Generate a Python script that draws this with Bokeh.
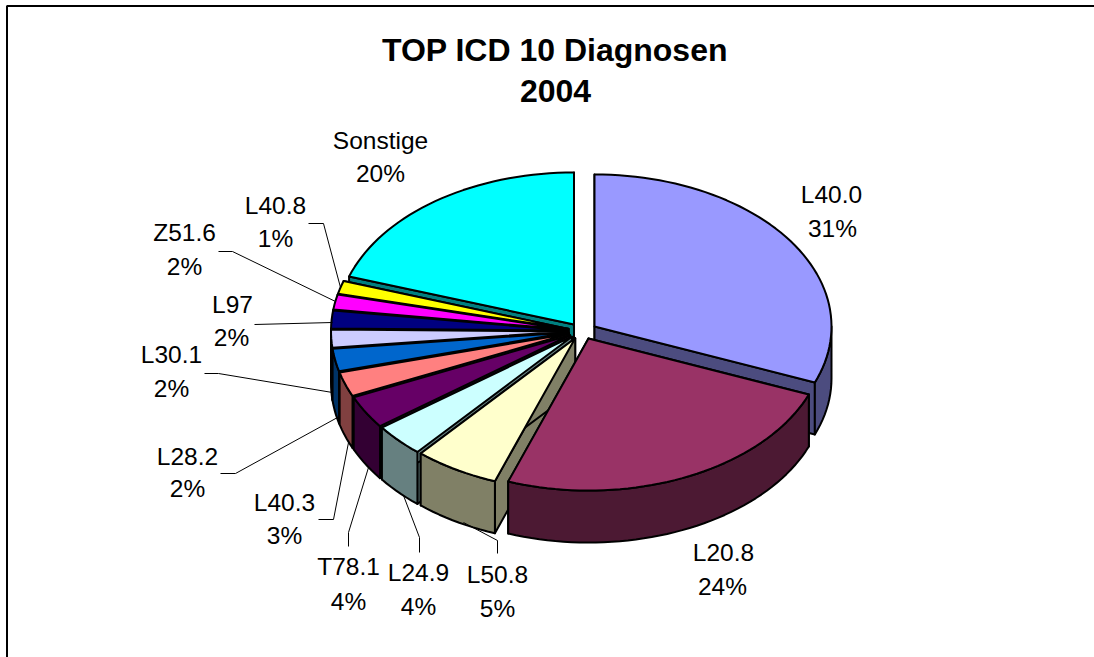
import math
from bokeh.embed import file_html
from bokeh.resources import INLINE
from bokeh.plotting import figure
from bokeh.models import ColumnDataSource
from bokeh.core.properties import value

# ---- data ----
categories = ["L40.0", "L20.8", "L50.8", "L24.9", "T78.1", "L40.3", "L28.2",
              "L30.1", "L97", "Z51.6", "L40.8", "Sonstige"]
shares = [31.0, 24.5, 5.8, 3.5, 3.5, 2.6, 2.4, 1.9, 1.9, 1.6, 1.4, 19.9]
percent_labels = ["31%", "24%", "5%", "4%", "4%", "3%", "2%", "2%", "2%", "2%", "1%", "20%"]
top_colors = ["#9999FF", "#993366", "#FFFFCC", "#CCFFFF", "#660066", "#FF8080",
              "#0066CC", "#CCCCFF", "#000080", "#FF00FF", "#FFFF00", "#00FFFF"]
wall_colors = ["#4C4C7F", "#4C1933", "#808066", "#668080", "#330033", "#804040",
               "#003366", "#666680", "#000040", "#800080", "#808000", "#008080"]
title_lines = ["TOP ICD 10 Diagnosen", "2004"]

# ---- layout (page pixels) ----
W, H = 1094, 657
CX, CY = 582.0, 330.6      # pie centre
RX, RY = 237.0, 152.0      # top ellipse radii
EX, EY = 14.5, 8.2         # explosion offset
DEPTH = 52.0
LW = 2.0

# label centres: (name x, name y, pct x, pct y)
label_pos = [(831, 194, 832, 228), (723, 552, 722, 586), (497, 574, 497, 608),
             (418, 572, 418, 606), (348, 566, 348, 601), (284, 502, 284, 535),
             (187, 456, 187, 488), (171, 354, 171, 388), (232, 304, 231, 337),
             (184, 232, 184, 266), (275, 205, 275, 238), (380, 140, 380, 173)]
# leader polylines, one for each label that has one
leaders = {
    "L50.8": [(497, 553), (497, 540), (463, 522)],
    "L24.9": [(419, 552), (419, 537), (403, 495)],
    "T78.1": [(348, 546), (348, 532), (368, 467)],
    "L40.3": [(318, 519), (333, 519), (348, 442)],
    "L28.2": [(220, 473), (235, 473), (337, 417)],
    "L30.1": [(204, 373), (218, 373), (332, 392)],
    "L97":   [(254, 324), (332, 322)],
    "Z51.6": [(218, 251), (232, 251), (335, 301)],
    "L40.8": [(308, 223), (323, 223), (340, 287)],
}

p = figure(width=W, height=H, x_range=(0, W), y_range=(H, 0),
           output_backend="svg", toolbar_location=None,
           min_border=0, outline_line_color=None, margin=(0, 0, 0, 0))
p.axis.visible = False
p.grid.visible = False
p.background_fill_color = "white"
p.border_fill_color = "white"

# chart frame (top and left edges, running off the picture)
p.line([6.5, 6.5, W], [H, 5.5, 5.5], line_color="black", line_width=2)

# build the slices
total = sum(shares)
slices = []
acc = 0.0
for v, top, wall in zip(shares, top_colors, wall_colors):
    a0 = acc / total * 2 * math.pi
    acc += v
    a1 = acc / total * 2 * math.pi
    mid = (a0 + a1) / 2
    slices.append(dict(a0=a0, a1=a1, mid=mid, top=top, wall=wall,
                       ax=CX + EX * math.sin(mid), ay=CY - EY * math.cos(mid)))


def arc(s, a0, a1):
    n = max(2, int((a1 - a0) / math.radians(2)) + 1)
    pts = [a0 + (a1 - a0) * i / n for i in range(n + 1)]
    return ([s["ax"] + RX * math.sin(t) for t in pts],
            [s["ay"] - RY * math.cos(t) for t in pts])


xs, ys, fills = [], [], []


def add(x, y, c):
    xs.append(x)
    ys.append(y)
    fills.append(c)


# back to front
for s in sorted(slices, key=lambda q: -math.cos(q["mid"])):
    for t in (s["a0"], s["a1"]):
        ex = s["ax"] + RX * math.sin(t)
        ey = s["ay"] - RY * math.cos(t)
        add([s["ax"], ex, ex, s["ax"]],
            [s["ay"], ey, ey + DEPTH, s["ay"] + DEPTH], s["wall"])
    lo, hi = max(s["a0"], math.pi / 2), min(s["a1"], 3 * math.pi / 2)
    if hi > lo:
        ax_, ay_ = arc(s, lo, hi)
        add(ax_ + ax_[::-1], ay_ + [y + DEPTH for y in ay_[::-1]], s["wall"])
    tx, ty = arc(s, s["a0"], s["a1"])
    add([s["ax"]] + tx, [s["ay"]] + ty, s["top"])

p.patches(xs="xs", ys="ys", fill_color="c", line_color="black", line_width=LW,
          line_join="round", source=ColumnDataSource(dict(xs=xs, ys=ys, c=fills)))

# leaders
p.multi_line([[q[0] for q in v] for v in leaders.values()],
             [[q[1] for q in v] for v in leaders.values()],
             line_color="black", line_width=1)

# labels
CAP = -0.5
tx, ty, tt = [], [], []
for name, pct, (nx, ny, px, py) in zip(categories, percent_labels, label_pos):
    tx += [nx, px]
    ty += [ny + CAP, py + CAP]
    tt += [name, pct]
p.text(tx, ty, text=tt, text_font=value("Liberation Sans"), text_font_size="24.5px",
       text_align="center", text_baseline="alphabetic", text_color="black")

p.text([554.5, 555], [49, 90], text=title_lines, text_font=value("Liberation Sans"),
       text_font_style="bold", text_font_size="32px",
       text_align="center", text_baseline="alphabetic", text_color="black")

open("out.html", "w").write(file_html(p, INLINE))
